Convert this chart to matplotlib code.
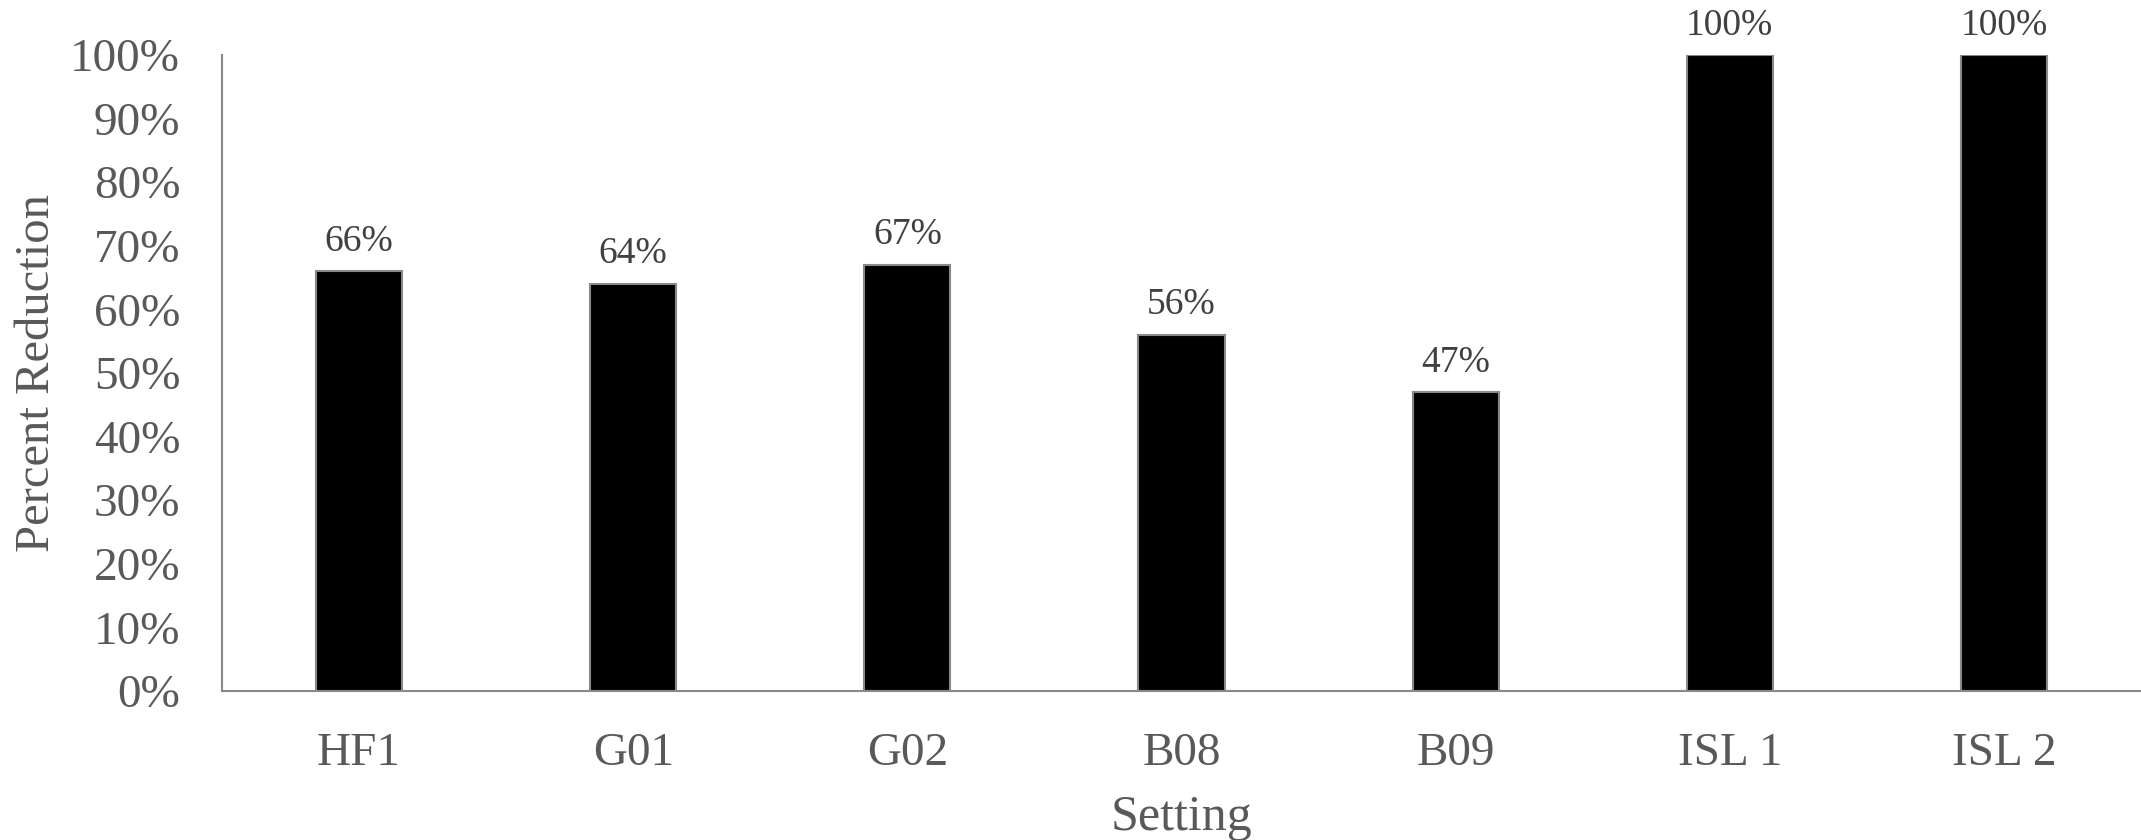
import numpy as np
import matplotlib.pyplot as plt
from matplotlib.ticker import PercentFormatter

settings = ['HF1', 'G01', 'G02', 'B08', 'B09', 'ISL 1', 'ISL 2']
reduction = [66, 64, 67, 56, 47, 100, 100]

axis_grey = '#898989'
text_grey = '#595959'

plt.rcParams['font.family'] = ['Liberation Serif', 'DejaVu Serif']

fig = plt.figure(figsize=(21.41, 8.4), dpi=100)
ax = fig.add_axes([0.1037, 0.1774, 0.8963, 0.7571])

x = np.arange(len(settings))
vals = np.array(reduction) / 100
bars = ax.bar(x, vals, width=0.314, color='black', edgecolor=axis_grey, linewidth=1.5)

# value labels just above each bar
for xi, v in zip(x, reduction):
    ax.annotate(f'{v}%', (xi, v / 100), xytext=(0, 9), textcoords='offset points',
                ha='center', va='bottom', fontsize=27, color='#404040')

ax.set_xlim(-0.5, len(settings) - 0.5)
ax.set_ylim(0, 1.0)
ax.set_yticks(np.linspace(0, 1, 11))
ax.yaxis.set_major_formatter(PercentFormatter(1.0, decimals=0))
ax.set_xticks(x)
ax.set_xticklabels(settings)

ax.tick_params(axis='both', length=0, labelsize=34, labelcolor=text_grey)
ax.tick_params(axis='y', pad=30)
ax.tick_params(axis='x', pad=30)

for side in ['top', 'right']:
    ax.spines[side].set_visible(False)
for side in ['left', 'bottom']:
    ax.spines[side].set_color(axis_grey)
    ax.spines[side].set_linewidth(1.5)

ax.set_xlabel('Setting', fontsize=36, color=text_grey, labelpad=14)
ax.set_ylabel('Percent Reduction', fontsize=35, color=text_grey, labelpad=8)

fig.savefig('out.png', dpi=100)
